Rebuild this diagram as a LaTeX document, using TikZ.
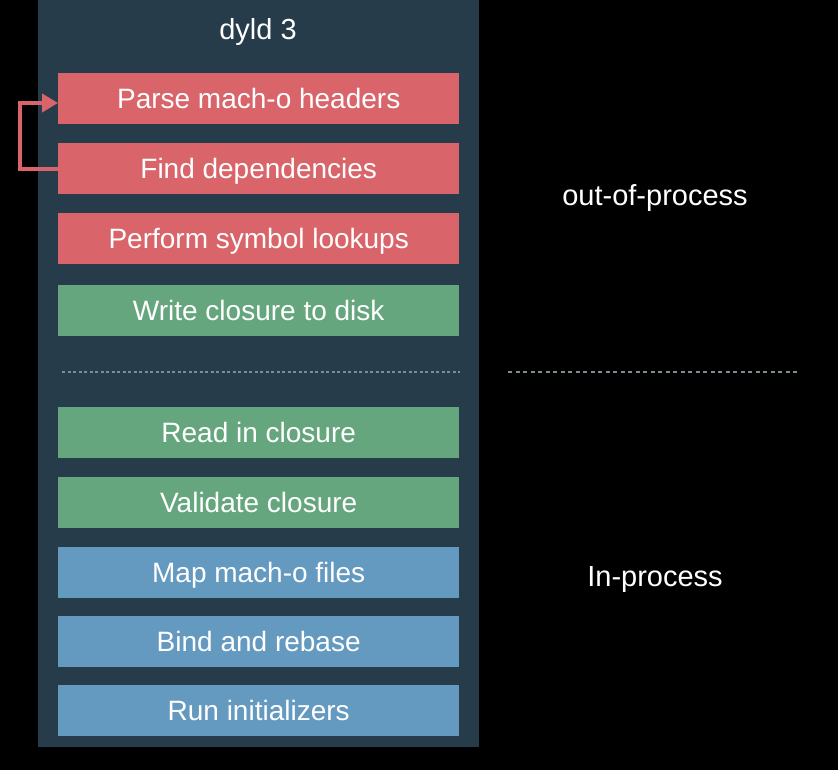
\documentclass[tikz,border=0pt]{standalone}
\usepackage{fontspec}
\setmainfont{Liberation Sans}
\usetikzlibrary{arrows.meta}
\definecolor{panelc}{HTML}{263C4B}
\definecolor{redc}{HTML}{D9656B}
\definecolor{greenc}{HTML}{66A67E}
\definecolor{bluec}{HTML}{6499C0}
\definecolor{dashc}{HTML}{7E8C96}
\begin{document}
\begin{tikzpicture}[x=1pt,y=-1pt,
  stepbox/.style={minimum width=401pt,minimum height=51pt,inner sep=0pt,text=white,font=\fontsize{28}{32}\selectfont,text height=24pt,text depth=4pt,anchor=north west},
  redbox/.style={stepbox,fill=redc},
  greenbox/.style={stepbox,fill=greenc},
  bluebox/.style={stepbox,fill=bluec},
  sidelabel/.style={text=white,font=\fontsize{29}{33}\selectfont,text height=24pt,text depth=4pt},
  sep/.style={dashc,line width=1.5pt,dash pattern=on 3pt off 2.5pt}]
\fill[black] (0,0) rectangle (838,770);
\useasboundingbox (0,0) rectangle (838,770);
\fill[panelc] (38,0) rectangle (479,747);
\node[sidelabel] (title) at (258,30) {dyld 3};
\node[redbox] (b1) at (58,73) {Parse mach-o headers};
\node[redbox] (b2) at (58,143) {Find dependencies};
\node[redbox] (b3) at (58,213) {Perform symbol lookups};
\node[greenbox] (b4) at (58,285) {Write closure to disk};
\node[greenbox] (b5) at (58,407) {Read in closure};
\node[greenbox] (b6) at (58,477) {Validate closure};
\node[bluebox] (b7) at (58,547) {Map mach-o files};
\node[bluebox] (b8) at (58,616) {Bind and rebase};
\node[bluebox] (b9) at (58,685) {Run initializers};
\coordinate (c2) at (20,103);
\draw[redc,line width=4pt,-{Triangle[length=16pt,width=18pt]}] (b2.west) -| (c2) -- (b1.west |- c2);
\coordinate (d1) at (62,372);
\coordinate (d2) at (460,372);
\coordinate (d3) at (508,372);
\coordinate (d4) at (800,372);
\draw[sep] (d1) -- (d2);
\draw[sep,dash pattern=on 4pt off 3.5pt] (d3) -- (d4);
\node[sidelabel] (oop) at (655,196) {out-of-process};
\node[sidelabel] (inp) at (655,576) {In-process};
\end{tikzpicture}
\end{document}
